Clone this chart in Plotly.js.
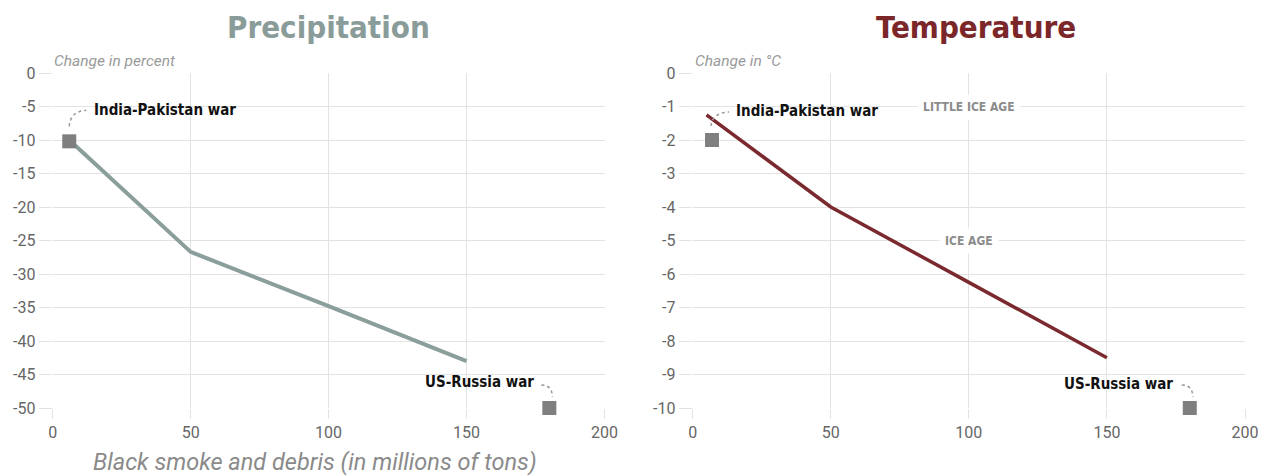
<!DOCTYPE html>
<html>
<head>
<meta charset="utf-8">
<script src="https://cdn.plot.ly/plotly-3.0.1.min.js"></script>
<style>
html,body{margin:0;padding:0;background:#fff;}
#chart{width:1271px;height:476px;}
</style>
</head>
<body>
<div id="chart"></div>
<script>
// ---- data ----
const smokeTicks = [0, 50, 100, 150, 200];

const precipX = [6, 50, 100, 150];
const precipY = [-10, -26.7, -34.8, -43];
const precipTicks = [0, -5, -10, -15, -20, -25, -30, -35, -40, -45, -50];

const tempX = [5, 50, 100, 150];
const tempY = [-1.25, -4.0, -6.25, -8.5];
const tempTicks = [0, -1, -2, -3, -4, -5, -6, -7, -8, -9, -10];

const scenarioNames = ['India-Pakistan war', 'US-Russia war'];
const precipScenarioX = [6, 180];
const precipScenarioY = [-10.2, -50];
const tempScenarioX = [7, 180];
const tempScenarioY = [-2, -10];

const tempZoneNames = ['LITTLE ICE AGE', 'ICE AGE'];
const tempZoneX = [100, 100];
const tempZoneY = [-1, -5];

// ---- styling ----
const W = 1271;
const gridCol = '#e3e3e3';
const tickCol = '#666';
const boldFont = '"Liberation Sans Narrow", "DejaVu Sans Condensed", "Roboto Condensed", Roboto, sans-serif';
const bodyFont = 'Roboto, "Open Sans", sans-serif';

function xAxis(domain, anchor) {
  return {
    domain: domain, anchor: anchor, range: [0, 200],
    tickvals: smokeTicks, ticktext: smokeTicks.map(String),
    showgrid: true, gridcolor: gridCol, gridwidth: 1,
    zeroline: false, showline: false,
    ticks: 'outside', ticklen: 10, tickcolor: gridCol, tickwidth: 1,
    tickfont: {family: bodyFont, size: 16, color: tickCol},
    fixedrange: true
  };
}
function yAxis(range, ticks, anchor) {
  return {
    anchor: anchor, range: range, domain: [0, 1],
    tickvals: ticks, ticktext: ticks.map(String),
    showgrid: true, gridcolor: gridCol, gridwidth: 1,
    zeroline: false, showline: false,
    ticks: 'outside', ticklen: 13, tickcolor: gridCol, tickwidth: 1,
    tickfont: {family: bodyFont, size: 16, color: tickCol},
    fixedrange: true
  };
}

const traces = [
  {x: precipX, y: precipY, xaxis: 'x', yaxis: 'y', type: 'scatter', mode: 'lines',
   line: {color: '#8a9e9b', width: 4}, hoverinfo: 'skip', cliponaxis: false},
  {x: tempX, y: tempY, xaxis: 'x2', yaxis: 'y2', type: 'scatter', mode: 'lines',
   line: {color: '#7a2a2e', width: 3.5}, hoverinfo: 'skip', cliponaxis: false},
  {x: precipScenarioX, y: precipScenarioY, xaxis: 'x', yaxis: 'y', type: 'scatter', mode: 'markers',
   marker: {symbol: 'square', size: 14, color: '#7f7f7f'}, hoverinfo: 'skip', cliponaxis: false},
  {x: tempScenarioX, y: tempScenarioY, xaxis: 'x2', yaxis: 'y2', type: 'scatter', mode: 'markers',
   marker: {symbol: 'square', size: 14, color: '#7f7f7f'}, hoverinfo: 'skip', cliponaxis: false}
];

// dotted connector shapes anchored at the scenario markers (pixel offsets, y up)
function connector(xr, yr, x, y, path) {
  return {type: 'path', xref: xr, yref: yr, xsizemode: 'pixel', ysizemode: 'pixel',
          xanchor: x, yanchor: y, path: path,
          line: {color: '#999', width: 1.5, dash: 'dot'}};
}
const pathIP = 'M 0 15 Q 1 30 17 31';
const pathUS = 'M -8 23 Q 3 23 3 11';
const shapes = [
  connector('x', 'y', precipScenarioX[0], precipScenarioY[0], pathIP),
  connector('x', 'y', precipScenarioX[1], precipScenarioY[1], pathUS),
  connector('x2', 'y2', tempScenarioX[0], tempScenarioY[0], 'M -1 14 Q 0 27 17 28'),
  connector('x2', 'y2', tempScenarioX[1], tempScenarioY[1], pathUS)
];

const annotations = [
  // chart titles
  {xref: 'paper', yref: 'paper', x: 328.6 / W, y: 1.137, text: '<b>Precipitation</b>', showarrow: false,
   font: {family: boldFont, size: 31, color: '#8a9c9a'}, xanchor: 'center', yanchor: 'middle'},
  {xref: 'paper', yref: 'paper', x: 976 / W, y: 1.137, text: '<b>Temperature</b>', showarrow: false,
   font: {family: boldFont, size: 31, color: '#7b2629'}, xanchor: 'center', yanchor: 'middle'},
  // units
  {xref: 'paper', yref: 'paper', x: 52 / W, y: 1.036, text: '<i>Change in percent</i>', showarrow: false,
   font: {family: bodyFont, size: 15.5, color: '#9a9a9a'}, xanchor: 'left', yanchor: 'middle'},
  {xref: 'paper', yref: 'paper', x: 693 / W, y: 1.036, text: '<i>Change in °C</i>', showarrow: false,
   font: {family: bodyFont, size: 15.5, color: '#9a9a9a'}, xanchor: 'left', yanchor: 'middle'},
  // x axis title
  {xref: 'paper', yref: 'paper', x: 314.5 / W, y: -0.161, text: '<i>Black smoke and debris (in millions of tons)</i>', showarrow: false,
   font: {family: bodyFont, size: 23.5, color: '#8a8a8a'}, xanchor: 'center', yanchor: 'middle'},
  // scenario labels
  {xref: 'x', yref: 'y', x: 14.6, y: -5.5, text: '<b>' + scenarioNames[0] + '</b>', showarrow: false,
   font: {family: boldFont, size: 15, color: '#111'}, xanchor: 'left', yanchor: 'middle', borderpad: 0},
  {xref: 'x', yref: 'y', x: 174.7, y: -46.1, text: '<b>' + scenarioNames[1] + '</b>', showarrow: false,
   font: {family: boldFont, size: 15, color: '#111'}, xanchor: 'right', yanchor: 'middle', borderpad: 0},
  {xref: 'x2', yref: 'y2', x: 15.3, y: -1.13, text: '<b>' + scenarioNames[0] + '</b>', showarrow: false,
   font: {family: boldFont, size: 15, color: '#111'}, xanchor: 'left', yanchor: 'middle', borderpad: 0},
  {xref: 'x2', yref: 'y2', x: 174.4, y: -9.27, text: '<b>' + scenarioNames[1] + '</b>', showarrow: false,
   font: {family: boldFont, size: 15, color: '#111'}, xanchor: 'right', yanchor: 'middle', borderpad: 0}
];
tempZoneNames.forEach(function (n, i) {
  annotations.push({xref: 'x2', yref: 'y2', x: tempZoneX[i], y: tempZoneY[i], text: '<b>' + n + '</b>',
    showarrow: false, font: {family: boldFont, size: 12, color: '#8c8c8c'},
    bgcolor: '#fff', borderpad: 5, xanchor: 'center', yanchor: 'middle'});
});

const layout = {
  width: W, height: 476,
  margin: {l: 0, r: 0, t: 73, b: 68, pad: 0},
  paper_bgcolor: '#fff', plot_bgcolor: 'rgba(0,0,0,0)',
  showlegend: false,
  xaxis: xAxis([52.7 / W, 604.5 / W], 'y'),
  yaxis: yAxis([-50, 0], precipTicks, 'x'),
  xaxis2: xAxis([692.7 / W, 1245 / W], 'y2'),
  yaxis2: yAxis([-10, 0], tempTicks, 'x2'),
  shapes: shapes,
  annotations: annotations
};

Plotly.newPlot('chart', traces, layout, {displayModeBar: false, staticPlot: true});
</script>
</body>
</html>
